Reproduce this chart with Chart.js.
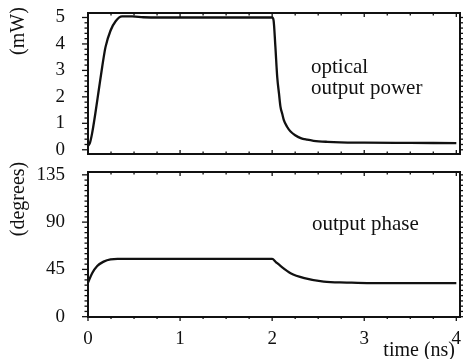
<!DOCTYPE html>
<html>
<head>
<meta charset="utf-8">
<script src="https://cdn.jsdelivr.net/npm/chart.js@4/dist/chart.umd.min.js"></script>
<style>
  html, body { margin: 0; padding: 0; background: #fff; }
  #wrap { position: relative; width: 463px; height: 359px; overflow: hidden; }
  canvas { position: absolute; left: 0; }
  #c1 { top: 0; }
  #c2 { top: 162px; }
</style>
</head>
<body>
<div id="wrap">
  <canvas id="c1" width="463" height="162"></canvas>
  <canvas id="c2" width="463" height="197"></canvas>
</div>
<script>
// ---- data ----
const timeTicks = [0, 1, 2, 3, 4];
const powerTicks = [0, 1, 2, 3, 4, 5];
const phaseTicks = [0, 45, 90, 135];

const powerTime = [0, 0.02, 0.045, 0.08, 0.117, 0.154, 0.19, 0.245, 0.3, 0.37, 0.48, 0.6, 0.8, 1.0, 1.5, 2.0,
  2.015, 2.035, 2.055, 2.075, 2.09, 2.11, 2.126, 2.16, 2.2, 2.25, 2.31, 2.38, 2.45, 2.6, 2.74, 3.0, 3.5, 4.0];
const powerValues = [0.15, 0.25, 0.63, 1.38, 2.26, 3.13, 3.88, 4.51, 4.86, 5.04, 5.04, 5.01, 5.0, 5.0, 5.0, 5.0,
  4.9, 3.9, 2.75, 2.1, 1.63, 1.35, 1.13, 0.88, 0.69, 0.55, 0.44, 0.38, 0.34, 0.30, 0.28, 0.27, 0.26, 0.25];

const phaseTime = [0, 0.045, 0.1, 0.17, 0.245, 0.32, 0.5, 1.0, 1.5, 2.0, 2.04, 2.09, 2.2, 2.35, 2.56, 2.81, 3.07, 3.5, 4.0];
const phaseValues = [32.5, 41.4, 48.3, 52.4, 54.6, 55.0, 55.0, 55.0, 55.0, 55.0, 52.0, 48.3, 41.4, 36.7, 33.4, 32.5, 31.9, 31.9, 31.9];

// ---- styling ----
const FONT = "'Liberation Serif', 'Times New Roman', serif";
const INK = '#111';

const framePlugin = {
  id: 'frame',
  afterDatasetsDraw(chart, args, o) {
    const { ctx, chartArea: a, scales } = chart;
    const x = scales.x, y = scales.y;
    ctx.save();
    ctx.strokeStyle = INK;
    ctx.lineWidth = 2;
    ctx.strokeRect(a.left, a.top, a.right - a.left, a.bottom - a.top);
    ctx.lineWidth = 1.3;
    const line = (x1, y1, x2, y2) => { ctx.beginPath(); ctx.moveTo(x1, y1); ctx.lineTo(x2, y2); ctx.stroke(); };
    const yStart = o.yTicks[0], yEnd = o.yTicks[o.yTicks.length - 1];
    for (let v = yStart; v <= yEnd + 1e-9; v += o.yMinor) {
      const p = y.getPixelForValue(v);
      const major = o.yTicks.some(t => Math.abs(t - v) < 1e-6);
      const L = major ? 6 : 3.5;
      line(a.left - L, p, a.left, p);
      line(a.right, p, a.right + L, p);
    }
    for (let v = 0; v <= 4 + 1e-9; v += 0.25) {
      const p = x.getPixelForValue(v);
      const major = timeTicks.some(t => Math.abs(t - v) < 1e-6);
      const L = major ? 4 : 2.5;
      line(p, a.top, p, a.top + L);
      if (o.xBottomOut) line(p, a.bottom, p, a.bottom + (major ? 4 : 2));
      else line(p, a.bottom, p, a.bottom - L);
    }
    ctx.restore();
  }
};

const textPlugin = {
  id: 'texts',
  afterDraw(chart, args, o) {
    const ctx = chart.ctx;
    ctx.save();
    ctx.fillStyle = INK;
    for (const t of o.items) {
      ctx.font = t.size + 'px ' + FONT;
      ctx.save();
      ctx.translate(t.x, t.y);
      if (t.rot) ctx.rotate(t.rot);
      ctx.textAlign = t.align || 'left';
      ctx.textBaseline = t.baseline || 'alphabetic';
      ctx.fillText(t.text, 0, 0);
      ctx.restore();
    }
    ctx.restore();
  }
};

function noPad(s) { s.paddingTop = 0; s.paddingBottom = 0; s.paddingLeft = 0; s.paddingRight = 0; }

function yAxis(min, max, ticks) {
  return {
    type: 'linear', min: min, max: max,
    grid: { display: false }, border: { display: false },
    afterBuildTicks: s => { s.ticks = ticks.map(v => ({ value: v })); },
    afterFit: s => { s.width = 88; noPad(s); },
    ticks: { color: INK, padding: 15, font: { family: FONT, size: 19 } }
  };
}

const lineStyle = { borderColor: INK, borderWidth: 2.3, pointRadius: 0, fill: false, cubicInterpolationMode: 'monotone' };

new Chart(document.getElementById('c1'), {
  type: 'line',
  data: { datasets: [Object.assign({ data: powerTime.map((t, i) => ({ x: t, y: powerValues[i] })) }, lineStyle)] },
  options: {
    responsive: false, animation: false,
    layout: { autoPadding: false, padding: { top: 13, right: 3, bottom: 8, left: 0 } },
    scales: {
      x: { type: 'linear', min: 0, max: 4.04, display: false, afterFit: s => { s.height = 0; noPad(s); } },
      y: yAxis(-0.16, 5.17, powerTicks)
    },
    plugins: {
      legend: { display: false }, tooltip: { enabled: false },
      frame: { yTicks: powerTicks, yMinor: 0.2, xBottomOut: false },
      texts: { items: [
        { text: '(mW)', x: 19, y: 31, rot: -Math.PI / 2, align: 'center', baseline: 'middle', size: 20 },
        { text: 'optical', x: 311, y: 73, size: 21 },
        { text: 'output power', x: 311, y: 93.5, size: 21 }
      ] }
    }
  },
  plugins: [framePlugin, textPlugin]
});

new Chart(document.getElementById('c2'), {
  type: 'line',
  data: { datasets: [Object.assign({ data: phaseTime.map((t, i) => ({ x: t, y: phaseValues[i] })) }, lineStyle)] },
  options: {
    responsive: false, animation: false,
    layout: { autoPadding: false, padding: { top: 10, right: 3, bottom: 0, left: 0 } },
    scales: {
      x: {
        type: 'linear', min: 0, max: 4.04,
        grid: { display: false }, border: { display: false },
        afterBuildTicks: s => { s.ticks = timeTicks.map(v => ({ value: v })); },
        afterFit: s => { s.height = 42; noPad(s); },
        ticks: { color: INK, padding: 3, maxRotation: 0, font: { family: FONT, size: 19 } }
      },
      y: yAxis(-0.3, 137.7, phaseTicks)
    },
    plugins: {
      legend: { display: false }, tooltip: { enabled: false },
      frame: { yTicks: phaseTicks, yMinor: 5, xBottomOut: true },
      texts: { items: [
        { text: '(degrees)', x: 19, y: 37, rot: -Math.PI / 2, align: 'center', baseline: 'middle', size: 20 },
        { text: 'output phase', x: 312, y: 68, size: 21 },
        { text: 'time (ns)', x: 455, y: 194, align: 'right', size: 20 }
      ] }
    }
  },
  plugins: [framePlugin, textPlugin]
});
</script>
</body>
</html>
